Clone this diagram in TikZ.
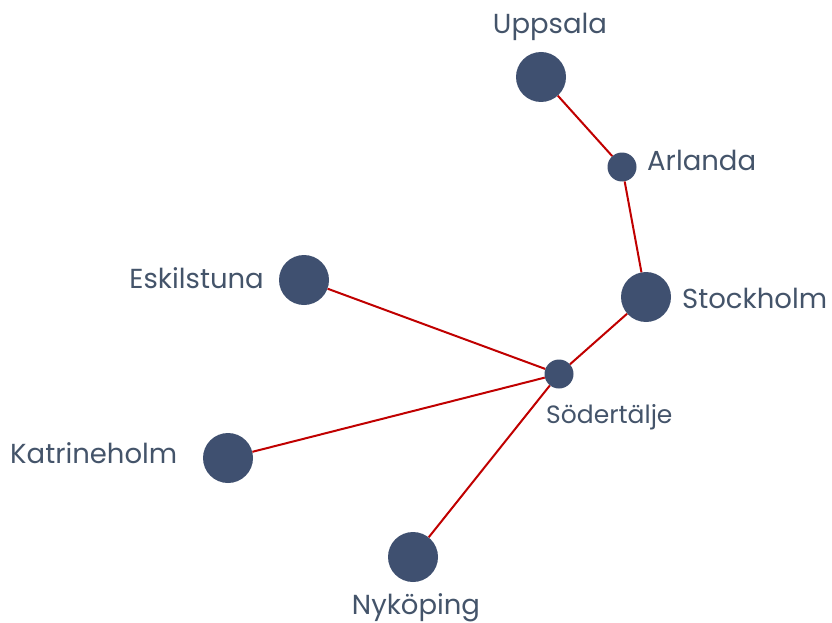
\documentclass[tikz,border=0pt]{standalone}
\usepackage{fontspec}
\setmainfont{Poppins}
\definecolor{nodefill}{HTML}{3F5070}
\definecolor{labelcol}{HTML}{44546A}
\definecolor{linecol}{HTML}{C00000}
\begin{document}
\begin{tikzpicture}[x=1pt,y=-1pt,
  big/.style={circle,fill=nodefill,minimum size=50pt,inner sep=0pt},
  small/.style={circle,fill=nodefill,minimum size=29pt,inner sep=0pt},
  lbl/.style={text=labelcol,inner sep=0pt,font=\fontsize{27.5}{30}\selectfont},
  slbl/.style={text=labelcol,inner sep=0pt,font=\fontsize{25}{28}\selectfont},
  link/.style={draw=linecol,line width=2pt}]
\useasboundingbox (0,0) rectangle (832,623);
\node[big] (upp) at (541,77) {};
\node[small] (arl) at (622,167) {};
\node[big] (sto) at (646,297) {};
\node[big] (esk) at (304,280) {};
\node[small] (sod) at (559,374) {};
\node[big] (kat) at (228,458) {};
\node[big] (nyk) at (413,557) {};
\draw[link] (upp) -- (arl);
\draw[link] (arl) -- (sto);
\draw[link] (sto) -- (sod);
\draw[link] (esk) -- (sod);
\draw[link] (kat) -- (sod);
\draw[link] (nyk) -- (sod);
\node[lbl,anchor=base] (tupp) at (550,34) {Uppsala};
\node[lbl,anchor=base west] (tarl) at (647,170) {Arlanda};
\node[lbl,anchor=base west] (tsto) at (682,308) {Stockholm};
\node[slbl,anchor=base west] (tsod) at (546,423) {Södertälje};
\node[lbl,anchor=base east] (tesk) at (264,288) {Eskilstuna};
\node[lbl,anchor=base west] (tkat) at (10,463) {Katrineholm};
\node[lbl,anchor=base] (tnyk) at (416,614) {Nyköping};
\end{tikzpicture}
\end{document}
